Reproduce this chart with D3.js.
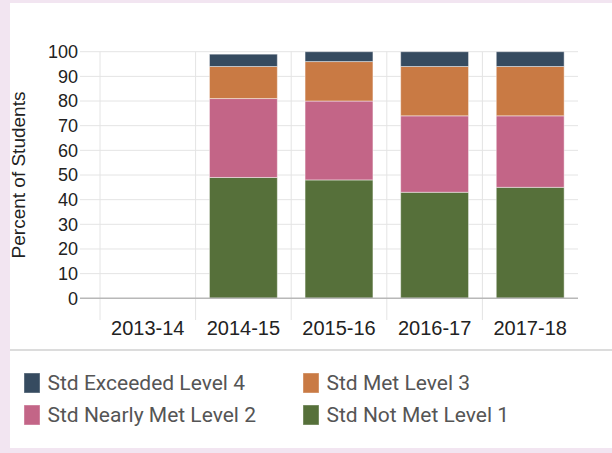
<!DOCTYPE html>
<html>
<head>
<meta charset="utf-8">
<script src="https://cdn.jsdelivr.net/npm/d3@7"></script>
<style>
  html, body { margin: 0; padding: 0; background: #f2e5f1; }
  svg { display: block; }
</style>
</head>
<body>
<svg id="chart" width="612" height="453"></svg>
<script>
// school years on the x axis
var years = ["2013-14", "2014-15", "2015-16", "2016-17", "2017-18"];

// percent of students per level, one value per year (null = no data)
var notMet    = [null, 49, 48, 43, 45];
var nearlyMet = [null, 32, 32, 31, 29];
var met       = [null, 13, 16, 20, 20];
var exceeded  = [null, 5, 4, 6, 6];

var yTicks = [0, 10, 20, 30, 40, 50, 60, 70, 80, 90, 100];

var levels = [
    { key: "notMet", label: "Std Not Met Level 1", values: notMet, color: "#56703a" },
    { key: "nearlyMet", label: "Std Nearly Met Level 2", values: nearlyMet, color: "#c36587" },
    { key: "met", label: "Std Met Level 3", values: met, color: "#c97a44" },
    { key: "exceeded", label: "Std Exceeded Level 4", values: exceeded, color: "#364b60" }
];

var svg = d3.select("#chart");

// white card
svg.append("rect")
    .attr("x", 10).attr("y", 3)
    .attr("width", 602).attr("height", 445)
    .attr("fill", "#fff");

var plotLeft = 100, plotRight = 578, plotTop = 51.7, plotBottom = 298.3;

var x = d3.scaleBand()
    .domain(years)
    .range([plotLeft, plotRight])
    .paddingInner(0.29)
    .paddingOuter(0.145);

var y = d3.scaleLinear()
    .domain([0, 100])
    .range([plotBottom, plotTop]);

// horizontal grid lines
svg.selectAll(".hgrid")
    .data(yTicks.filter(function (d) { return d > 0; }))
    .enter()
    .append("line")
    .attr("class", "hgrid")
    .attr("x1", 80).attr("x2", plotRight)
    .attr("y1", function (d) { return y(d); })
    .attr("y2", function (d) { return y(d); })
    .attr("stroke", "#e4e4e4")
    .attr("stroke-width", 1);

// vertical grid lines at band starts
var step = x.step();
svg.selectAll(".vgrid")
    .data(years)
    .enter()
    .append("line")
    .attr("class", "vgrid")
    .attr("x1", function (d) { return x(d) - step * 0.145; })
    .attr("x2", function (d) { return x(d) - step * 0.145; })
    .attr("y1", plotTop).attr("y2", 320)
    .attr("stroke", "#e4e4e4")
    .attr("stroke-width", 1);

svg.selectAll(".ylabel")
    .data(yTicks)
    .enter()
    .append("text")
    .attr("class", "ylabel")
    .attr("x", 78)
    .attr("y", function (d) { return y(d); })
    .attr("dy", "0.35em")
    .attr("text-anchor", "end")
    .attr("font-family", "Liberation Sans, Arial, sans-serif")
    .attr("font-size", 18)
    .attr("fill", "#222")
    .text(function (d) { return d; });

// stacked bars
var rows = years.map(function (yr, i) {
    var r = { year: yr };
    levels.forEach(function (l) { r[l.key] = l.values[i] == null ? 0 : l.values[i]; });
    return r;
});
var stack = d3.stack().keys(levels.map(function (l) { return l.key; }));
var series = stack(rows);

svg.selectAll(".layer")
    .data(series)
    .enter()
    .append("g")
    .attr("class", "layer")
    .attr("fill", function (d, i) { return levels[i].color; })
    .selectAll("rect")
    .data(function (d) { return d.filter(function (p) { return p[1] - p[0] > 0; }); })
    .enter()
    .append("rect")
    .attr("x", function (d) { return x(d.data.year); })
    .attr("width", x.bandwidth())
    .attr("y", function (d) { return y(d[1]); })
    .attr("height", function (d) { return y(d[0]) - y(d[1]); })
    .attr("stroke", "rgba(255,255,255,0.45)")
    .attr("stroke-width", 1);

// x axis line
svg.append("line")
    .attr("x1", 80).attr("x2", plotRight)
    .attr("y1", y(0)).attr("y2", y(0))
    .attr("stroke", "#b8b8b8")
    .attr("stroke-width", 1.5);

svg.selectAll(".xlabel")
    .data(years)
    .enter()
    .append("text")
    .attr("class", "xlabel")
    .attr("x", function (d) { return x(d) + x.bandwidth() / 2; })
    .attr("y", 335)
    .attr("text-anchor", "middle")
    .attr("font-family", "Liberation Sans, Arial, sans-serif")
    .attr("font-size", 20)
    .attr("fill", "#222")
    .text(function (d) { return d; });

// y axis title
svg.append("text")
    .attr("transform", "translate(25,175) rotate(-90)")
    .attr("text-anchor", "middle")
    .attr("font-family", "Liberation Sans, Arial, sans-serif")
    .attr("font-size", 19)
    .attr("fill", "#222")
    .text("Percent of Students");

// legend separator
svg.append("rect")
    .attr("x", 10).attr("y", 349)
    .attr("width", 602).attr("height", 2)
    .attr("fill", "#dcdcdc");

// legend: exceeded, met / nearly met, not met
var legendOrder = [levels[3], levels[2], levels[1], levels[0]];
var legend = svg.selectAll(".legend")
    .data(legendOrder)
    .enter()
    .append("g")
    .attr("class", "legend")
    .attr("transform", function (d, i) {
        return "translate(" + (i % 2 === 0 ? 24 : 303) + "," + (i < 2 ? 373 : 405) + ")";
    });

legend.append("rect")
    .attr("width", 16).attr("height", 20)
    .attr("fill", function (d) { return d.color; })
    .attr("stroke", "rgba(255,255,255,0.4)");

legend.append("text")
    .attr("x", 23.5)
    .attr("y", 17)
    .attr("font-family", "Roboto, sans-serif")
    .attr("font-size", 21)
    .attr("fill", "#555")
    .text(function (d) { return d.label; });
</script>
</body>
</html>
